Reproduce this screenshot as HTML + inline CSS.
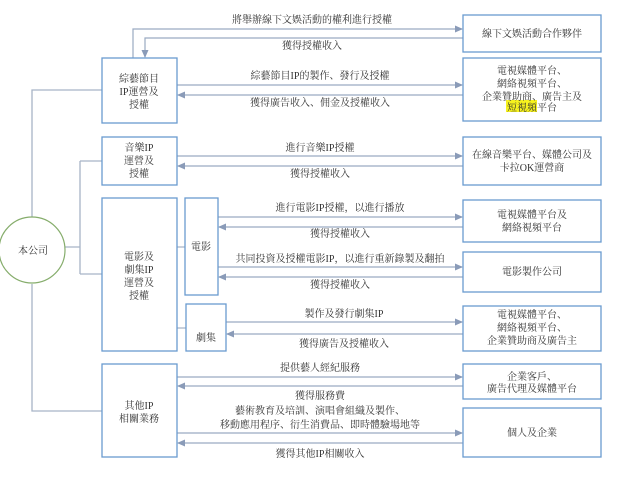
<!DOCTYPE html>
<html><head><meta charset="utf-8"><style>
body{margin:0;background:#fff;}
svg text{font-family:"Liberation Serif","Noto Serif CJK SC",serif;font-size:10px;fill:#333;}
</style></head><body>
<svg width="640" height="481" viewBox="0 0 640 481" xmlns="http://www.w3.org/2000/svg">
<defs><marker id="a" markerWidth="8" markerHeight="8" refX="7" refY="4" orient="auto" markerUnits="userSpaceOnUse"><path d="M0,0.5 L8,4 L0,7.5z" fill="#8a9bb8"/></marker></defs>
<g stroke="#a7b4c6" stroke-width="1.3" fill="none">
<path d="M32,217 V90 H102"/>
<path d="M32,284 V411 H102"/>
<path d="M65,247 H80 M80,161 V274 M80,161 H102 M80,274 H102"/>
<path d="M177,247 H185 M177,328 H186"/>
</g>
<g stroke="#9aaac2" stroke-width="1.2" fill="none" marker-end="url(#a)">
<path d="M133,58 V29 H462"/>
<path d="M463,38 H145 V57"/>
<path d="M177,85 H462"/><path d="M463,95 H178"/>
<path d="M177,156 H462"/><path d="M463,166 H178"/>
<path d="M218,217 H462"/><path d="M463,227 H219"/>
<path d="M218,267 H462"/><path d="M463,277 H219"/>
<path d="M226,322 H462"/><path d="M463,334 H227"/>
<path d="M177,377 H462"/><path d="M463,386 H178"/>
<path d="M177,433 H462"/><path d="M463,443 H178"/>
</g>
<ellipse cx="32" cy="250" rx="33" ry="33" fill="#fff" stroke="#86ad6c" stroke-width="1.2"/>
<g fill="#fff" stroke="#6a9bd0" stroke-width="1.3">
<rect x="102" y="58" width="75" height="65"/>
<rect x="102" y="137" width="75" height="48"/>
<rect x="102" y="198" width="75" height="153"/>
<rect x="185" y="198" width="33" height="97"/>
<rect x="186" y="304" width="40" height="47"/>
<rect x="102" y="364" width="75" height="93"/>
<rect x="463" y="15" width="138" height="37"/>
<rect x="463" y="58" width="138" height="63"/>
<rect x="463" y="137" width="138" height="48"/>
<rect x="463" y="200" width="138" height="42"/>
<rect x="463" y="252" width="138" height="40"/>
<rect x="463" y="306" width="138" height="45"/>
<rect x="463" y="364" width="138" height="35"/>
<rect x="463" y="408" width="138" height="49"/>
</g>
<rect x="506" y="100" width="31" height="12" fill="#f7f21e"/>
<g text-anchor="middle">
<text x="33" y="254">本公司</text>
<text x="139" y="82">綜藝節目</text><text x="139" y="95">IP運營及</text><text x="139" y="108">授權</text>
<text x="139" y="151">音樂IP</text><text x="139" y="164">運營及</text><text x="139" y="177">授權</text>
<text x="139" y="260">電影及</text><text x="139" y="273">劇集IP</text><text x="139" y="286">運營及</text><text x="139" y="299">授權</text>
<text x="201" y="250">電影</text><text x="206" y="341">劇集</text>
<text x="139" y="409">其他IP</text><text x="139" y="422">相關業務</text>
<text x="532" y="37">線下文娛活動合作夥伴</text>
<text x="532" y="74">電視媒體平台、</text><text x="532" y="87">網絡視頻平台、</text><text x="532" y="100">企業贊助商、廣告主及</text><text x="532" y="111">短視頻平台</text>
<text x="532" y="158">在線音樂平台、媒體公司及</text><text x="532" y="171">卡拉OK運營商</text>
<text x="532" y="218">電視媒體平台及</text><text x="532" y="231">網絡視頻平台</text>
<text x="532" y="275">電影製作公司</text>
<text x="532" y="318">電視媒體平台、</text><text x="532" y="331">網絡視頻平台、</text><text x="532" y="344">企業贊助商及廣告主</text>
<text x="532" y="380">企業客戶、</text><text x="532" y="392">廣告代理及媒體平台</text>
<text x="532" y="436">個人及企業</text>
<text x="312" y="23">將舉辦線下文娛活動的權利進行授權</text>
<text x="312" y="49">獲得授權收入</text>
<text x="320" y="79">綜藝節目IP的製作、發行及授權</text>
<text x="320" y="106">獲得廣告收入、佣金及授權收入</text>
<text x="320" y="151">進行音樂IP授權</text>
<text x="320" y="177">獲得授權收入</text>
<text x="340" y="211">進行電影IP授權，以進行播放</text>
<text x="340" y="237">獲得授權收入</text>
<text x="340" y="262">共同投資及授權電影IP，以進行重新錄製及翻拍</text>
<text x="340" y="288">獲得授權收入</text>
<text x="344" y="317">製作及發行劇集IP</text>
<text x="344" y="347">獲得廣告及授權收入</text>
<text x="320" y="371">提供藝人經紀服務</text>
<text x="320" y="399">獲得服務費</text>
<text x="320" y="414">藝術教育及培訓、演唱會組織及製作、</text>
<text x="320" y="428">移動應用程序、衍生消費品、即時體驗場地等</text>
<text x="320" y="457">獲得其他IP相關收入</text>
</g>
</svg>
</body></html>
